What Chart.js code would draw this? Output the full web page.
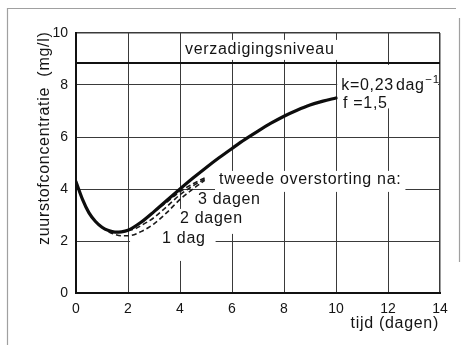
<!DOCTYPE html>
<html>
<head>
<meta charset="utf-8">
<script src="https://cdn.jsdelivr.net/npm/chart.js@4/dist/chart.umd.min.js"></script>
<style>
html,body{margin:0;padding:0;background:#fff;}
#wrap{position:relative;width:461px;height:345px;}
</style>
</head>
<body>
<div id="wrap"><canvas id="c" width="461" height="345"></canvas></div>
<script>
// ---- data ----
const xTickValues = [0, 2, 4, 6, 8, 10, 12, 14];
const yTickValues = [0, 2, 4, 6, 8, 10];

const satX = [0, 14];
const satY = [8.85, 8.85];

const mainX = [0, 0.25, 0.5, 0.75, 1, 1.25, 1.5, 1.75, 2, 2.5, 3, 3.5, 4, 4.5, 5, 5.5, 6, 6.5, 7, 7.5, 8, 8.5, 9, 9.5, 10];
const mainY = [4.28, 3.6, 3.08, 2.75, 2.53, 2.4, 2.34, 2.35, 2.41, 2.72, 3.13, 3.57, 4.0, 4.42, 4.82, 5.2, 5.56, 5.91, 6.23, 6.53, 6.8, 7.03, 7.23, 7.38, 7.5];

const dag1X = [1, 1.25, 1.5, 1.75, 2, 2.5, 3, 3.5, 4, 4.5, 4.95];
const dag1Y = [2.53, 2.36, 2.25, 2.2, 2.2, 2.36, 2.66, 3.1, 3.6, 4.0, 4.33];

const dag2X = [2, 2.25, 2.5, 3, 3.5, 4, 4.5, 4.95];
const dag2Y = [2.41, 2.46, 2.59, 2.9, 3.33, 3.78, 4.12, 4.38];

const dag3X = [3, 3.25, 3.5, 4, 4.5, 4.95];
const dag3Y = [3.13, 3.31, 3.5, 3.9, 4.2, 4.43];

const labelSat = 'verzadigingsniveau';
const labelK = 'k=0,23\u200Adag';
const labelKexp = '\u22121';
const labelF = 'f =1,5';
const labelTweede = 'tweede overstorting na:';
const label3 = '3 dagen';
const label2 = '2 dagen';
const label1 = '1 dag';
const xTitle = 'tijd (dagen)';
const yTitle = 'zuurstofconcentratie  (mg/l)';

// ---- helpers ----
const pts = (xs, ys) => xs.map((x, i) => ({x: x, y: ys[i]}));
const FONT = '"Liberation Sans", Arial, Helvetica, sans-serif';
const INK = '#141414';

function boxedText(ctx, text, px, py, size, padL, padR, padT, padB) {
  ctx.font = size + 'px ' + FONT;
  try { ctx.letterSpacing = '0.7px'; } catch (e) {}
  const w = ctx.measureText(text).width;
  ctx.fillStyle = '#fff';
  ctx.fillRect(px - padL, py - padT, w + padL + padR, padT + padB);
  ctx.fillStyle = INK;
  ctx.textAlign = 'left';
  ctx.textBaseline = 'middle';
  ctx.fillText(text, px, py);
  return w;
}

const annot = {
  id: 'annot',
  beforeDraw(chart) {
    const ctx = chart.ctx;
    ctx.save();
    ctx.fillStyle = '#fff';
    ctx.fillRect(0, 0, chart.width, chart.height);
    // outer frame of the printed figure
    ctx.strokeStyle = '#a0a0a0';
    ctx.lineWidth = 1.2;
    ctx.beginPath();
    ctx.moveTo(7.5, 345); ctx.lineTo(7.5, 8.5); ctx.lineTo(456, 8.5);
    ctx.moveTo(459.5, 18); ctx.lineTo(459.5, 262);
    ctx.stroke();
    ctx.restore();
  },
  beforeDatasetsDraw(chart) {
    const ctx = chart.ctx;
    const xs = chart.scales.x, ys = chart.scales.y;
    const X = v => xs.getPixelForValue(v), Y = v => ys.getPixelForValue(v);
    const right = chart.chartArea.right;
    ctx.save();
    boxedText(ctx, labelSat, X(4.19), Y(9.35), 16, 3, 3, 10, 10);
    // k / f block: white box stops short of the right frame line
    ctx.fillStyle = '#fff';
    ctx.fillRect(X(10.2) - 4, Y(8.85) + 2, right - 2 - (X(10.2) - 4), Y(7.1) - Y(8.85) - 2);
    const wk = boxedText(ctx, labelK, X(10.2), Y(7.97), 16, 0, 0, 0, 0);
    ctx.font = '11.5px ' + FONT;
    ctx.fillStyle = INK;
    ctx.fillText(labelKexp, X(10.2) + wk + 0.5, Y(8.2));
    boxedText(ctx, labelF, X(10.27), Y(7.3), 16, 0, 0, 0, 0);
    boxedText(ctx, labelTweede, X(5.5), Y(4.35), 16, 4, 4, 9, 12);
    boxedText(ctx, label3, X(4.69), Y(3.58), 16, 4, 4, 9, 9);
    boxedText(ctx, label2, X(4.0), Y(2.85), 16, 4, 4, 10, 15);
    boxedText(ctx, label1, X(3.31), Y(2.08), 16, 32, 10, 8, 22);
    ctx.restore();
  },
  afterDraw(chart) {
    const ctx = chart.ctx;
    const a = chart.chartArea;
    ctx.save();
    ctx.fillStyle = INK;
    ctx.font = '16px ' + FONT;
    try { ctx.letterSpacing = '0.7px'; } catch (e) {}
    ctx.textAlign = 'right';
    ctx.textBaseline = 'middle';
    ctx.fillText(xTitle, a.right - 1, a.bottom + 31);
    ctx.translate(49, a.bottom - 48);
    ctx.rotate(-Math.PI / 2);
    ctx.textAlign = 'left';
    ctx.textBaseline = 'alphabetic';
    ctx.fillText(yTitle, 0, 0);
    ctx.restore();
  }
};

new Chart(document.getElementById('c'), {
  type: 'scatter',
  data: {
    datasets: [
      {data: pts(satX, satY), showLine: true, borderColor: '#111', borderWidth: 2, pointRadius: 0, fill: false},
      {data: pts(mainX, mainY), showLine: true, borderColor: '#0d0d0d', borderWidth: 3.2, pointRadius: 0,
       cubicInterpolationMode: 'monotone', fill: false, borderCapStyle: 'round'},
      {data: pts(dag1X, dag1Y), showLine: true, borderColor: '#1a1a1a', borderWidth: 1.6, borderDash: [5, 3],
       pointRadius: 0, cubicInterpolationMode: 'monotone', fill: false},
      {data: pts(dag2X, dag2Y), showLine: true, borderColor: '#1a1a1a', borderWidth: 1.6, borderDash: [5, 3],
       pointRadius: 0, cubicInterpolationMode: 'monotone', fill: false},
      {data: pts(dag3X, dag3Y), showLine: true, borderColor: '#1a1a1a', borderWidth: 1.6, borderDash: [5, 3],
       pointRadius: 0, cubicInterpolationMode: 'monotone', fill: false}
    ]
  },
  options: {
    responsive: false,
    animation: false,
    devicePixelRatio: 1,
    layout: {padding: {top: 33, right: 21, left: 0, bottom: 0}},
    plugins: {legend: {display: false}, tooltip: {enabled: false}},
    events: [],
    scales: {
      x: {
        type: 'linear', min: 0, max: 14,
        afterBuildTicks: s => { s.ticks = xTickValues.map(v => ({value: v})); },
        afterFit: s => { s.height = 52; },
        ticks: {color: INK, font: {family: FONT, size: 14}, padding: 8, maxRotation: 0,
                callback: v => String(v)},
        grid: {color: '#3a3a3a', lineWidth: c => (c.tick && c.tick.value === 14 ? 1.5 : 1), drawTicks: false},
        border: {color: '#111', width: 2}
      },
      y: {
        type: 'linear', min: 0, max: 10,
        afterBuildTicks: s => { s.ticks = yTickValues.map(v => ({value: v})); },
        afterFit: s => { s.width = 76; },
        ticks: {color: INK, font: {family: FONT, size: 14}, padding: 8, callback: v => String(v)},
        grid: {color: '#3a3a3a', lineWidth: c => (c.tick && c.tick.value === 10 ? 1.5 : 1), drawTicks: false},
        border: {color: '#111', width: 2}
      }
    }
  },
  plugins: [annot]
});
</script>
</body>
</html>
